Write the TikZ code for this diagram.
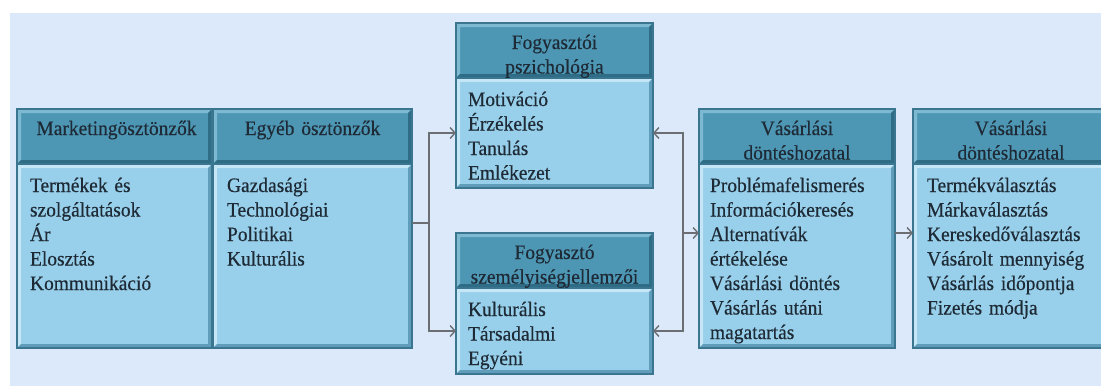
\documentclass[tikz,border=0pt]{standalone}
\usepackage{fontspec}
\setmainfont[FakeStretch=0.95,FakeBold=0.35]{Liberation Serif}
\usetikzlibrary{calc,arrows.meta}

\definecolor{pagebg}{HTML}{DCE9FA}
\definecolor{hdrfill}{HTML}{4D97B5}
\definecolor{hdrlight}{HTML}{7DB9D1}
\definecolor{hdrdark}{HTML}{2F6C86}
\definecolor{bodyfill}{HTML}{98CFEA}
\definecolor{bodylight}{HTML}{C4E6F6}
\definecolor{bodydark}{HTML}{5F9DBB}
\definecolor{frame}{HTML}{3A7690}
\definecolor{ink}{HTML}{1E2B36}
\definecolor{wire}{HTML}{6B6F73}

\tikzset{
  % bevelled panel: light top/left edges, dark bottom/right edges
  bevel/.style 2 args={path picture={
    \def\bb{path picture bounding box}
    \fill[#1] (\bb.north west) -- (\bb.north east)
      -- ([shift={(-4pt,-4pt)}]\bb.north east) -- ([shift={(4pt,-4pt)}]\bb.north west)
      -- ([shift={(4pt,4pt)}]\bb.south west) -- (\bb.south west) -- cycle;
    \fill[#2] (\bb.south east) -- (\bb.south west)
      -- ([shift={(4pt,4pt)}]\bb.south west) -- ([shift={(-4pt,4pt)}]\bb.south east)
      -- ([shift={(-4pt,-4pt)}]\bb.north east) -- (\bb.north east) -- cycle;
  }},
  panel/.style={rectangle, anchor=north west, inner sep=0pt, outer sep=0pt,
    draw=frame, line width=1.3pt},
  hdr/.style={panel, fill=hdrfill, bevel={hdrlight}{hdrdark}, minimum height=55pt},
  bodypanel/.style={panel, fill=bodyfill, bevel={bodylight}{bodydark}},
  txt/.style={inner sep=0pt, outer sep=0pt, text=ink,
    font=\fontsize{20.5}{24.5}\selectfont},
  htext/.style={txt, anchor=base, align=center, text width=194pt},
  btext/.style={txt, anchor=base west, align=left, text width=186pt},
  wireline/.style={draw=wire, line width=1.4pt},
  arr/.style={wireline, -{Straight Barb[length=5pt,width=11pt,line width=1.4pt]}},
}

\begin{document}
\begin{tikzpicture}[x=1pt,y=-1pt]
  \clip (0,0) rectangle (1101,386);
  \useasboundingbox (0,0) rectangle (1101,386);
  \fill[white] (0,0) rectangle (1101,386);
  \fill[pagebg] (10,13) rectangle (1101,386);

  % Marketingösztönzők
  \node[hdr, minimum width=195pt] (m-h) at (17,109) {};
  \node[bodypanel, minimum width=195pt, minimum height=184pt] (m-b) at (17,164) {};
  \node[htext] (m-ht) at ($(m-h.north)+(2,26)$) {Marketingösztönzők};
  \node[btext] (m-bt) at ($(m-b.north west)+(13,28)$)
    {Termékek és\\szolgáltatások\\Ár\\Elosztás\\Kommunikáció};

  % Egyéb ösztönzők
  \node[hdr, minimum width=199pt] (e-h) at (213,109) {};
  \node[bodypanel, minimum width=199pt, minimum height=184pt] (e-b) at (213,164) {};
  \node[htext] (e-ht) at ($(e-h.north)+(0,26)$) {Egyéb ösztönzők};
  \node[btext] (e-bt) at ($(e-b.north west)+(14,28)$)
    {Gazdasági\\Technológiai\\Politikai\\Kulturális};

  % Fogyasztói pszichológia
  \node[hdr, minimum width=197pt] (p-h) at (456,23) {};
  \node[bodypanel, minimum width=197pt, minimum height=110pt] (p-b) at (456,78) {};
  \node[htext] (p-ht) at ($(p-h.north)+(0,26)$) {Fogyasztói\\pszichológia};
  \node[btext] (p-bt) at ($(p-b.north west)+(12,28)$)
    {Motiváció\\Érzékelés\\Tanulás\\Emlékezet};

  % Fogyasztó személyiségjellemzői
  \node[hdr, minimum width=197pt] (s-h) at (456,233) {};
  \node[bodypanel, minimum width=197pt, minimum height=86pt] (s-b) at (456,288) {};
  \node[htext] (s-ht) at ($(s-h.north)+(0,26)$) {Fogyasztó\\személyiségjellemzői};
  \node[btext] (s-bt) at ($(s-b.north west)+(12,28)$)
    {Kulturális\\Társadalmi\\Egyéni};

  % Vásárlási döntéshozatal (folyamat)
  \node[hdr, minimum width=196pt] (v-h) at (699,109) {};
  \node[bodypanel, minimum width=196pt, minimum height=184pt] (v-b) at (699,164) {};
  \node[htext] (v-ht) at ($(v-h.north)+(0,26)$) {Vásárlási\\döntéshozatal};
  \node[btext] (v-bt) at ($(v-b.north west)+(11,28)$)
    {Problémafelismerés\\Információkeresés\\Alternatívák\\értékelése\\Vásárlási döntés\\Vásárlás utáni\\magatartás};

  % Vásárlási döntéshozatal (eredmény)
  \node[hdr, minimum width=196pt] (w-h) at (913,109) {};
  \node[bodypanel, minimum width=196pt, minimum height=184pt] (w-b) at (913,164) {};
  \node[htext] (w-ht) at ($(w-h.north)+(0,26)$) {Vásárlási\\döntéshozatal};
  \node[btext] (w-bt) at ($(w-b.north west)+(14,28)$)
    {Termékválasztás\\Márkaválasztás\\Kereskedőválasztás\\Vásárolt mennyiség\\Vásárlás időpontja\\Fizetés módja};

  % connectors
  \coordinate (j1) at (429,223);
  \coordinate (j2) at (683,233);
  \draw[wireline] (e-b.east |- j1) -- (j1);
  \draw[arr] (j1) |- (p-b.west);
  \draw[arr] (j1) |- (s-b.west);
  \draw[arr] (j2) |- (p-b.east);
  \draw[arr] (j2) |- (s-b.east);
  \draw[arr] (j2) -- (j2 -| v-b.west);
  \draw[arr] (v-b.east |- j2) -- (w-b.west |- j2);
\end{tikzpicture}
\end{document}
